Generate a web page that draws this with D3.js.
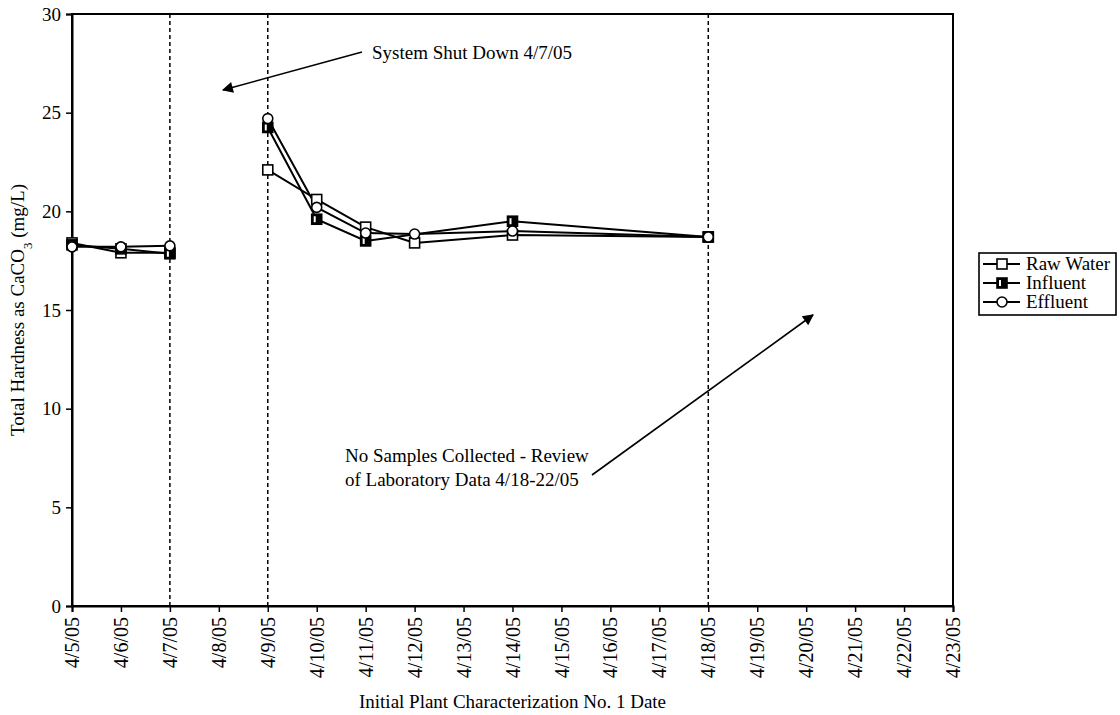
<!DOCTYPE html>
<html>
<head>
<meta charset="utf-8">
<script src="https://cdn.jsdelivr.net/npm/d3@7"></script>
<style>
  body { margin: 0; background: #fff; }
  svg text { font-family: "Liberation Serif", "Times New Roman", serif; fill: #000; }
</style>
</head>
<body>
<svg id="chart" width="1120" height="715"></svg>
<script>
// Sampling dates (April 2005)
const tickLabels = ["4/5/05","4/6/05","4/7/05","4/8/05","4/9/05","4/10/05","4/11/05","4/12/05",
  "4/13/05","4/14/05","4/15/05","4/16/05","4/17/05","4/18/05","4/19/05","4/20/05","4/21/05","4/22/05","4/23/05"];
const yTicks = [0, 5, 10, 15, 20, 25, 30];

// Total hardness as CaCO3 (mg/L); run 1 = before shutdown, run 2 = after restart
const rawDates = ["4/5/05","4/6/05","4/7/05","4/9/05","4/10/05","4/11/05","4/12/05","4/14/05","4/18/05"];
const rawValues = [18.4, 17.9, 17.9, 22.1, 20.6, 19.2, 18.4, 18.8, 18.7];
const rawRun = [1, 1, 1, 2, 2, 2, 2, 2, 2];
const infDates = ["4/5/05","4/6/05","4/7/05","4/9/05","4/10/05","4/11/05","4/14/05","4/18/05"];
const infValues = [18.3, 18.1, 17.85, 24.25, 19.6, 18.5, 19.5, 18.7];
const infRun = [1, 1, 1, 2, 2, 2, 2, 2];
const effDates = ["4/5/05","4/6/05","4/7/05","4/9/05","4/10/05","4/11/05","4/12/05","4/14/05","4/18/05"];
const effValues = [18.2, 18.2, 18.25, 24.7, 20.2, 18.9, 18.85, 19.0, 18.7];
const effRun = [1, 1, 1, 2, 2, 2, 2, 2, 2];

// Event markers
const eventDates = ["4/7/05", "4/9/05", "4/18/05"];

const svg = d3.select("#chart");
const m = { left: 72, right: 953, top: 14, bottom: 606 };
const FS = 19;

const x = d3.scalePoint().domain(tickLabels).range([m.left, m.right]);
const y = d3.scaleLinear().domain([0, 30]).range([m.bottom, m.top]);

// Plot frame
svg.append("rect")
  .attr("x", m.left).attr("y", m.top)
  .attr("width", m.right - m.left).attr("height", m.bottom - m.top)
  .attr("fill", "none").attr("stroke", "#000").attr("stroke-width", 2);

// Y axis
const yAxis = svg.append("g")
  .attr("transform", `translate(${m.left},0)`)
  .call(d3.axisLeft(y).tickValues(yTicks).tickSize(6).tickPadding(5));
yAxis.select(".domain").attr("stroke-width", 2);
yAxis.selectAll(".tick line").attr("stroke-width", 1.5);
yAxis.selectAll("text").attr("font-size", FS).attr("font-family", null);

// X axis with rotated date labels
const xAxis = svg.append("g")
  .attr("transform", `translate(0,${m.bottom})`)
  .call(d3.axisBottom(x).tickSize(6).tickPadding(4));
xAxis.select(".domain").attr("stroke-width", 2);
xAxis.selectAll(".tick line").attr("stroke-width", 1.5);
xAxis.selectAll("text")
  .attr("font-size", 20).attr("font-family", null)
  .attr("transform", "rotate(-90)")
  .attr("text-anchor", "end")
  .attr("dx", "-11").attr("dy", "0.33em")
  .attr("x", 0).attr("y", 0);

// Event dashed verticals
svg.append("g").selectAll("line").data(eventDates).join("line")
  .attr("x1", d => x(d)).attr("x2", d => x(d))
  .attr("y1", m.top).attr("y2", m.bottom)
  .attr("stroke", "#000").attr("stroke-width", 1.5)
  .attr("stroke-dasharray", "4,3");

// Series
function zip(dates, vals, runs) { return dates.map((d, i) => ({ d, v: vals[i], run: runs[i] })); }
const raw = zip(rawDates, rawValues, rawRun);
const inf = zip(infDates, infValues, infRun);
const eff = zip(effDates, effValues, effRun);

const line = d3.line().x(p => x(p.d)).y(p => y(p.v));

[raw, inf, eff].forEach(s => {
  d3.groups(s, p => p.run).forEach(([, seg]) => {
    svg.append("path").datum(seg)
      .attr("d", line).attr("fill", "none")
      .attr("stroke", "#000").attr("stroke-width", 2);
  });
});

function squareMarker(g, cx, cy, filled) {
  g.append("rect").attr("x", cx - 5).attr("y", cy - 5).attr("width", 10).attr("height", 10)
    .attr("fill", filled ? "#000" : "#fff").attr("stroke", "#000").attr("stroke-width", 1.6);
  if (filled) {
    g.append("rect").attr("x", cx - 3).attr("y", cy - 3).attr("width", 2).attr("height", 6).attr("fill", "#fff");
  }
}
function circleMarker(g, cx, cy) {
  g.append("circle").attr("cx", cx).attr("cy", cy).attr("r", 5)
    .attr("fill", "#fff").attr("stroke", "#000").attr("stroke-width", 1.6);
}

const mk = svg.append("g");
raw.forEach(p => squareMarker(mk, x(p.d), y(p.v), false));
inf.forEach(p => squareMarker(mk, x(p.d), y(p.v), true));
eff.forEach(p => circleMarker(mk, x(p.d), y(p.v)));

// Axis titles
svg.append("text")
  .attr("transform", `translate(24,${(m.top + m.bottom) / 2}) rotate(-90)`)
  .attr("text-anchor", "middle").attr("font-size", FS)
  .html('Total Hardness as CaCO<tspan baseline-shift="sub" font-size="13">3</tspan> (mg/L)');

svg.append("text")
  .attr("x", (m.left + m.right) / 2).attr("y", 708)
  .attr("text-anchor", "middle").attr("font-size", FS)
  .text("Initial Plant Characterization No. 1 Date");

// Annotations
svg.append("defs").append("marker").attr("id", "arrow").attr("viewBox", "0 0 10 10")
  .attr("refX", 9).attr("refY", 5).attr("markerWidth", 14).attr("markerHeight", 11)
  .attr("markerUnits", "userSpaceOnUse").attr("orient", "auto")
  .append("path").attr("d", "M0,0 L10,5 L0,10 z").attr("fill", "#000");

svg.append("text").attr("x", 372).attr("y", 59).attr("font-size", FS).text("System Shut Down 4/7/05");
svg.append("line").attr("x1", 362).attr("y1", 52).attr("x2", 223).attr("y2", 90)
  .attr("stroke", "#000").attr("stroke-width", 1.6).attr("marker-end", "url(#arrow)");

svg.append("text").attr("x", 345).attr("y", 462).attr("font-size", FS).text("No Samples Collected - Review");
svg.append("text").attr("x", 345).attr("y", 486).attr("font-size", FS).text("of Laboratory Data 4/18-22/05");
svg.append("line").attr("x1", 592).attr("y1", 475).attr("x2", 813).attr("y2", 315)
  .attr("stroke", "#000").attr("stroke-width", 1.6).attr("marker-end", "url(#arrow)");

// Legend
const legendItems = [
  { name: "Raw Water", kind: "square" },
  { name: "Influent", kind: "filled" },
  { name: "Effluent", kind: "circle" }
];
const lg = svg.append("g");
lg.append("rect").attr("x", 979).attr("y", 253).attr("width", 137).attr("height", 62)
  .attr("fill", "#fff").attr("stroke", "#000").attr("stroke-width", 1.6);
legendItems.forEach((it, i) => {
  const cy = 264 + i * 19;
  lg.append("line").attr("x1", 983).attr("x2", 1020).attr("y1", cy).attr("y2", cy)
    .attr("stroke", "#000").attr("stroke-width", 2);
  if (it.kind === "circle") circleMarker(lg, 1002, cy);
  else squareMarker(lg, 1002, cy, it.kind === "filled");
  lg.append("text").attr("x", 1026).attr("y", cy + 6).attr("font-size", FS).text(it.name);
});
</script>
</body>
</html>
